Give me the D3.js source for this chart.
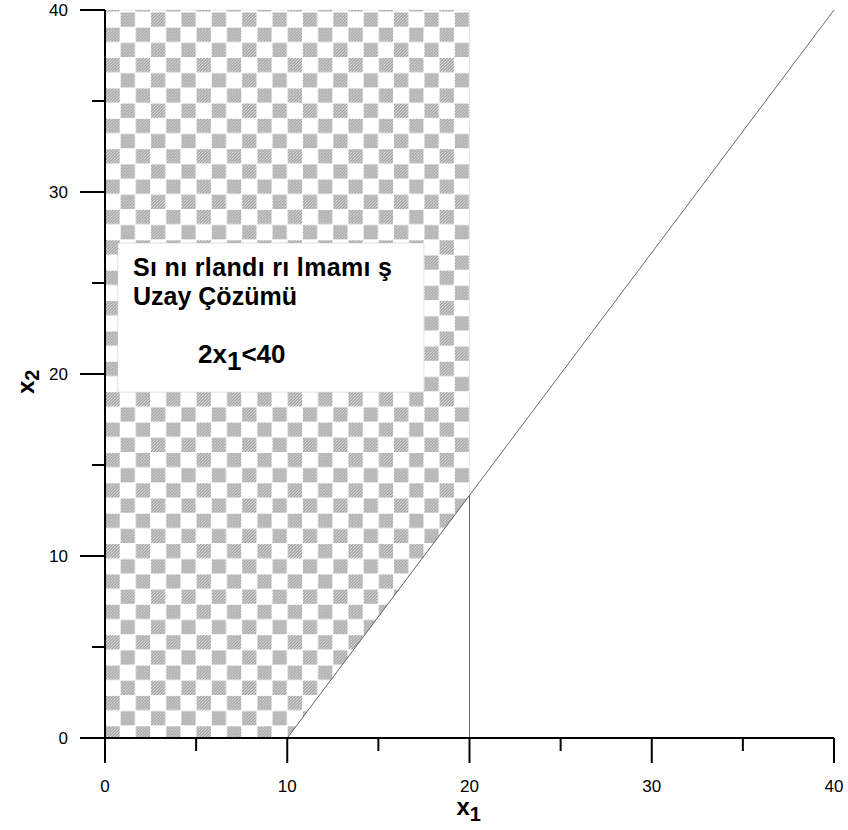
<!DOCTYPE html>
<html>
<head>
<meta charset="utf-8">
<script src="https://cdn.jsdelivr.net/npm/d3@7"></script>
<style>
  html, body { margin: 0; padding: 0; background: #fff; }
  svg { display: block; font-family: Arial, "Liberation Sans", sans-serif; }
</style>
</head>
<body>
<svg id="chart" width="848" height="830"></svg>
<script>
// ---- data ----
const xTicks = [0, 10, 20, 30, 40];
const yTicks = [0, 10, 20, 30, 40];
const xMinorTicks = [5, 15, 25, 35];
const yMinorTicks = [5, 15, 25, 35];
const constraintLine = [[10, 0], [40, 40]];      // boundary line
const verticalLine = [[20, 0], [20, 13.33]];     // x1 = 20 segment
const feasibleRegion = [[0, 0], [10, 0], [20, 13.33], [20, 40], [0, 40]];
const boxCorners = [[0.7, 27.2], [17.5, 19.0]];  // label box (data coords)
const boxLines = ["Sı nı rlandı rı lmamı ş", "Uzay Çözümü"];
const boxFormula = { pre: "2x", sub: "1", post: "<40" };

// ---- scales ----
const svg = d3.select("#chart");
const x = d3.scaleLinear().domain([0, 40]).range([105, 834]);
const y = d3.scaleLinear().domain([0, 40]).range([738, 10]);

// ---- patterns ----
const defs = svg.append("defs");
const hatch = defs.append("pattern").attr("id", "hatch")
  .attr("patternUnits", "userSpaceOnUse").attr("width", 3).attr("height", 3);
hatch.append("rect").attr("width", 3).attr("height", 3).attr("fill", "#e8e8e8");
hatch.append("path").attr("d", "M-1,1 L1,-1 M0,3 L3,0 M2,4 L4,2")
  .attr("stroke", "#747474").attr("stroke-width", 0.9);

const cell = (x(10) - x(0)) / 12;
const checker = defs.append("pattern").attr("id", "checker")
  .attr("patternUnits", "userSpaceOnUse")
  .attr("x", x(0)).attr("y", 12)
  .attr("width", cell * 2).attr("height", cell * 2);
checker.append("rect").attr("x", cell + 0.5).attr("y", 0.5)
  .attr("width", cell - 1).attr("height", cell - 1).attr("fill", "url(#hatch)");
checker.append("rect").attr("x", 0.5).attr("y", cell + 0.5)
  .attr("width", cell - 1).attr("height", cell - 1).attr("fill", "url(#hatch)");

// ---- region ----
svg.append("path")
  .datum(feasibleRegion)
  .attr("d", d3.line().x(d => x(d[0])).y(d => y(d[1])).curve(d3.curveLinearClosed))
  .attr("fill", "url(#checker)")
  .attr("stroke", "#bbb").attr("stroke-width", 0.6).attr("stroke-dasharray", "1,1");

// ---- lines ----
const line = d3.line().x(d => x(d[0])).y(d => y(d[1]));
svg.append("path").datum(constraintLine).attr("d", line)
  .attr("fill", "none").attr("stroke", "#444").attr("stroke-width", 0.8);
svg.append("path").datum(verticalLine).attr("d", line)
  .attr("fill", "none").attr("stroke", "#444").attr("stroke-width", 0.8);

// ---- label box ----
const bx0 = x(boxCorners[0][0]), by0 = y(boxCorners[0][1]);
const bx1 = x(boxCorners[1][0]), by1 = y(boxCorners[1][1]);
svg.append("rect")
  .attr("x", bx0).attr("y", by0).attr("width", bx1 - bx0).attr("height", by1 - by0)
  .attr("fill", "#fff").attr("stroke", "#aaa").attr("stroke-width", 0.7)
  .attr("stroke-dasharray", "1,1");
svg.append("g").selectAll("text").data(boxLines).join("text")
  .attr("x", 133).attr("y", (d, i) => 276 + i * 29)
  .attr("font-size", 25).attr("font-weight", "bold").attr("fill", "#000")
  .attr("textLength", (d, i) => i === 0 ? 259 : null)
  .attr("lengthAdjust", "spacing")
  .text(d => d);
const f = svg.append("text").attr("x", 198).attr("y", 363)
  .attr("font-size", 26).attr("font-weight", "bold");
f.append("tspan").text(boxFormula.pre);
f.append("tspan").attr("dy", 7).text(boxFormula.sub);
f.append("tspan").attr("dy", -7).text(boxFormula.post);

// ---- axes ----
const axisG = svg.append("g").attr("stroke", "#000").attr("stroke-width", 2).attr("fill", "none");
axisG.append("line").attr("x1", x(0)).attr("x2", x(40)).attr("y1", y(0)).attr("y2", y(0));
axisG.append("line").attr("x1", x(0)).attr("x2", x(0)).attr("y1", y(0)).attr("y2", y(40));
// x ticks
axisG.selectAll(".xt").data(xTicks).join("line")
  .attr("x1", d => x(d)).attr("x2", d => x(d)).attr("y1", y(0)).attr("y2", y(0) + 25);
axisG.selectAll(".xm").data(xMinorTicks).join("line")
  .attr("x1", d => x(d)).attr("x2", d => x(d)).attr("y1", y(0)).attr("y2", y(0) + 13);
// y ticks
axisG.selectAll(".yt").data(yTicks).join("line")
  .attr("x1", x(0) - 25).attr("x2", x(0)).attr("y1", d => y(d)).attr("y2", d => y(d));
axisG.selectAll(".ym").data(yMinorTicks).join("line")
  .attr("x1", x(0) - 13).attr("x2", x(0)).attr("y1", d => y(d)).attr("y2", d => y(d));

// tick labels
svg.append("g").selectAll("text").data(xTicks).join("text")
  .attr("x", d => x(d)).attr("y", 792)
  .attr("text-anchor", "middle").attr("font-size", 17).attr("fill", "#000")
  .text(d => d);
svg.append("g").selectAll("text").data(yTicks).join("text")
  .attr("x", 68).attr("y", d => y(d) + 6)
  .attr("text-anchor", "end").attr("font-size", 17).attr("fill", "#000")
  .text(d => d);

// axis titles
const xt = svg.append("text").attr("x", x(20) - 13).attr("y", 815)
  .attr("font-size", 24).attr("font-weight", "bold");
xt.append("tspan").text("x");
xt.append("tspan").attr("dy", 6).attr("font-size", 20).text("1");
const yt = svg.append("text")
  .attr("transform", `translate(34, ${y(20) + 20}) rotate(-90)`)
  .attr("font-size", 24).attr("font-weight", "bold");
yt.append("tspan").text("x");
yt.append("tspan").attr("dy", 5).attr("font-size", 20).text("2");
</script>
</body>
</html>
